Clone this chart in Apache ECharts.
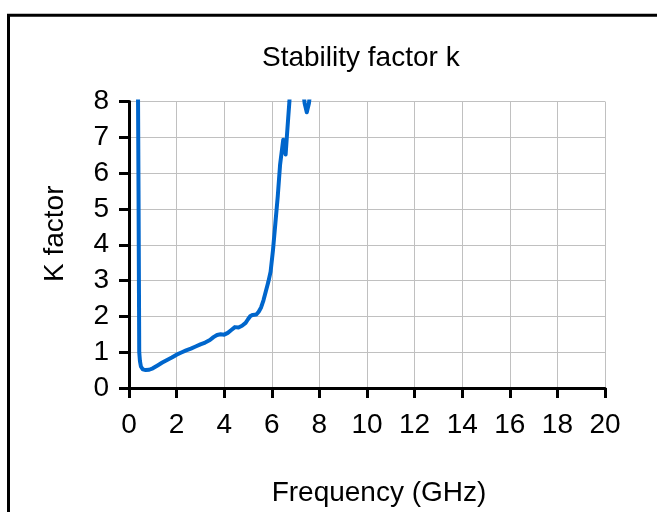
<!DOCTYPE html>
<html>
<head>
<meta charset="utf-8">
<script src="https://cdn.jsdelivr.net/npm/echarts@6/dist/echarts.min.js"></script>
<style>
html,body{margin:0;padding:0;background:#fff;}
#chart{width:657px;height:512px;}
</style>
</head>
<body>
<div id="chart"></div>
<script>
// Frequency (GHz)
const freq = [0.36, 0.38, 0.40, 0.42, 0.43, 0.46, 0.50, 0.58, 0.70, 0.85, 1.0, 1.2, 1.4, 1.6, 1.8, 2.0, 2.2, 2.4, 2.6, 2.8, 3.0, 3.2, 3.4, 3.55, 3.7, 3.85, 4.0, 4.15, 4.3, 4.45, 4.6, 4.75, 4.9, 5.0, 5.1, 5.2, 5.35, 5.45, 5.55, 5.65, 5.75, 5.85, 5.95, 6.05, 6.15, 6.25, 6.35, 6.48, 6.58, 6.62, 6.69, 6.74, 6.85, 7.0, 7.15, 7.3, 7.38, 7.47, 7.56, 7.64, 7.75, 7.9, 8.5, 10, 12, 14, 16, 18, 20];
// Stability factor K
const kval = [12, 8.0, 5.5, 2.5, 1.0, 0.75, 0.6, 0.52, 0.50, 0.51, 0.55, 0.63, 0.71, 0.78, 0.85, 0.93, 0.99, 1.05, 1.10, 1.16, 1.22, 1.27, 1.34, 1.42, 1.48, 1.50, 1.49, 1.54, 1.62, 1.70, 1.69, 1.74, 1.82, 1.92, 2.01, 2.04, 2.05, 2.13, 2.25, 2.45, 2.7, 2.95, 3.25, 3.85, 4.6, 5.35, 6.25, 6.93, 6.52, 6.9, 7.55, 8.0, 9.5, 11, 10.5, 8.4, 7.95, 7.7, 7.95, 8.4, 9.5, 11, 13, 15, 16, 17, 18, 19, 20];
const xTicks = [0, 2, 4, 6, 8, 10, 12, 14, 16, 18, 20];
const yTicks = [0, 1, 2, 3, 4, 5, 6, 7, 8];
const titleText = 'Stability factor k';
const xName = 'Frequency (GHz)';
const yName = 'K factor';

const data = freq.map((f, i) => [f, kval[i]]);
const FONT = "'Liberation Sans', Arial, sans-serif";

const chart = echarts.init(document.getElementById('chart'), null, {renderer: 'canvas', width: 657, height: 512});
chart.setOption({
  animation: false,
  backgroundColor: '#fff',
  title: {
    text: titleText,
    left: 262,
    top: 44,
    padding: 0,
    textStyle: {fontFamily: FONT, fontSize: 28, fontWeight: 'normal', color: '#000'}
  },
  graphic: [{
    type: 'rect',
    shape: {x: 8.5, y: 15.3, width: 700, height: 600},
    style: {fill: 'none', stroke: '#000', lineWidth: 3},
    silent: true
  }],
  grid: {left: 129, width: 476, top: 101.5, height: 290, containLabel: false},
  xAxis: {
    type: 'value',
    min: xTicks[0], max: xTicks[xTicks.length - 1], interval: 2,
    name: xName,
    nameLocation: 'middle',
    nameGap: 91,
    nameTextStyle: {fontFamily: FONT, fontSize: 28, color: '#000', padding: [0, 0, 0, 24]},
    axisLine: {show: true, onZero: false, lineStyle: {color: '#000', width: 3}},
    axisTick: {show: true, length: 10, lineStyle: {color: '#000', width: 3}},
    axisLabel: {fontFamily: FONT, fontSize: 28, color: '#000', margin: 23},
    splitLine: {show: true, lineStyle: {color: '#c0c0c0', width: 1}}
  },
  yAxis: {
    type: 'value',
    min: yTicks[0], max: yTicks[yTicks.length - 1], interval: 1,
    name: yName,
    nameLocation: 'middle',
    nameGap: 60,
    nameRotate: 90,
    nameTextStyle: {fontFamily: FONT, fontSize: 28, color: '#000', padding: [0, 0, 0, 22]},
    axisLine: {show: true, lineStyle: {color: '#000', width: 3}},
    axisTick: {show: true, length: 10, lineStyle: {color: '#000', width: 3}},
    axisLabel: {fontFamily: FONT, fontSize: 28, color: '#000', margin: 20},
    splitLine: {show: true, lineStyle: {color: '#c0c0c0', width: 1}}
  },
  series: [{
    type: 'line',
    data: data,
    showSymbol: false,
    symbol: 'none',
    clip: true,
    smooth: false,
    lineStyle: {color: '#0066cc', width: 4, join: 'round', cap: 'round'}
  }]
});
</script>
</body>
</html>
